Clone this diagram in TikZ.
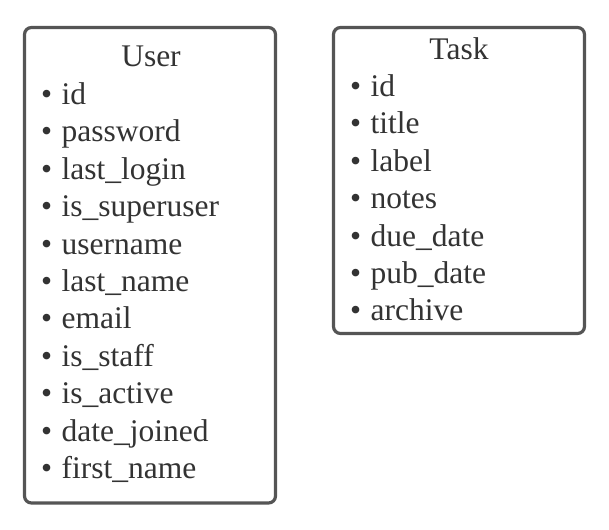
\documentclass[tikz,border=0pt]{standalone}
\usepackage{fontspec}
\setmainfont{Liberation Serif}
\definecolor{boxline}{HTML}{555555}
\definecolor{ink}{HTML}{333333}
\tikzset{
  entity/.style={draw=boxline, line width=3.2pt, rounded corners=7pt, fill=white, inner sep=0pt},
  title/.style={anchor=base, inner sep=0pt, text=ink, font=\fontsize{31.5}{37}\selectfont},
  field/.style={anchor=base west, inner sep=0pt, text=ink, font=\fontsize{31.5}{37}\selectfont},
}
\begin{document}
\begin{tikzpicture}[x=1pt, y=-1pt]
  \useasboundingbox (0,0) rectangle (609,529);
  % Tabel User
  \node[entity, minimum width=251pt, minimum height=475.5pt] (user) at (150,265.25) {};
  \node[title] (user-title) at (151,67) {User};
  \foreach \f [count=\i] in {id,password,last\_login,is\_superuser,username,last\_name,email,is\_staff,is\_active,date\_joined,first\_name}
    \node[field] (user-\i) at (41,{104.5+(\i-1)*37.4}) {\textbullet\hspace{9.5pt}\f};

  % Tabel Task
  \node[entity, minimum width=251pt, minimum height=306pt] (task) at (459,180.5) {};
  \node[title] (task-title) at (459,60) {Task};
  \foreach \f [count=\i] in {id,title,label,notes,due\_date,pub\_date,archive}
    \node[field] (task-\i) at (350,{96.5+(\i-1)*37.4}) {\textbullet\hspace{9.5pt}\f};
\end{tikzpicture}
\end{document}
